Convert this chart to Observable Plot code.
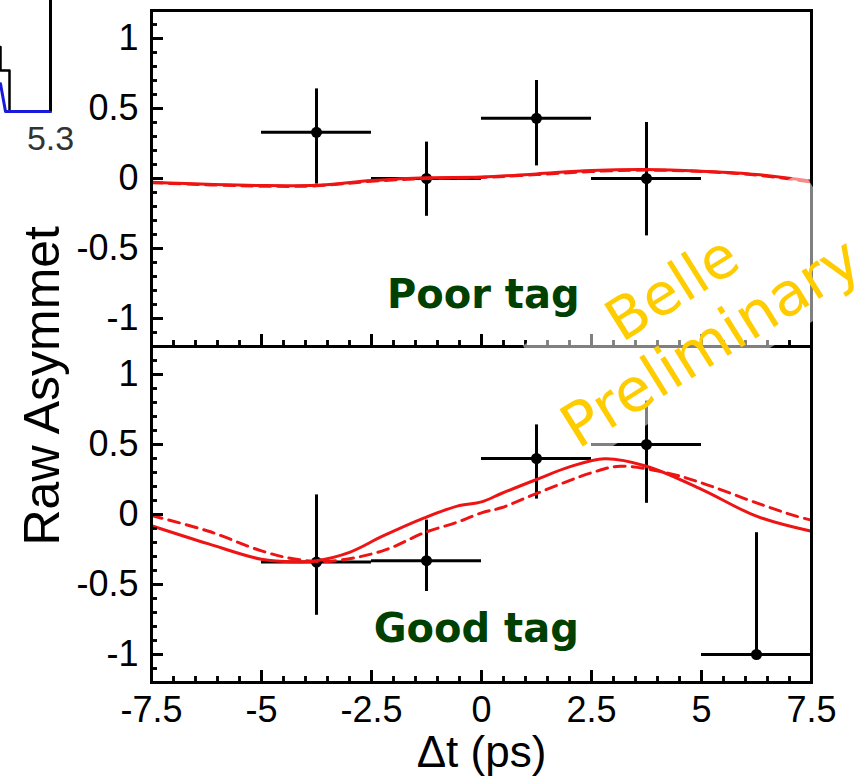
<!DOCTYPE html>
<html>
<head>
<meta charset="utf-8">
<script src="https://cdn.jsdelivr.net/npm/d3@7"></script>
<script src="https://cdn.jsdelivr.net/npm/@observablehq/plot@0.6"></script>
<style>
  html, body { margin: 0; padding: 0; background: #fff; }
  #chart { position: relative; width: 863px; height: 776px; overflow: hidden; }
  #chart svg { display: block; }
  #ticks, #inset { position: absolute; left: 0; top: 0; }
</style>
</head>
<body>
<div id="chart"></div>
<script>
// ---- Δt bins (ps) ----
const binCentre = [-3.75, -1.25, 1.25, 3.75, 6.25];
const binHalf = 1.25;

// ---- Poor-tag raw asymmetry with error bar ends ----
const poorA    = [0.33, 0.00, 0.43, 0.00];
const poorUp   = [0.64, 0.26, 0.70, 0.40];
const poorDown = [-0.04, -0.27, 0.09, -0.41];

// ---- Good-tag raw asymmetry with error bar ends ----
const goodA    = [-0.34, -0.33, 0.40, 0.50, -1.00];
const goodUp   = [0.14, -0.04, 0.64, 0.81, -0.13];
const goodDown = [-0.72, -0.55, 0.11, 0.08, -1.00];

// ---- fit curves (solid and dashed) ----
const poorSolidT = [-7.5, -5.0, -3.75, -2.5, -1.25, 0.0, 1.25, 2.5, 3.75, 5.0, 6.25, 7.5];
const poorSolidA = [-0.026, -0.05, -0.048, -0.015, 0.005, 0.01, 0.033, 0.057, 0.064, 0.052, 0.029, -0.02];
const poorDashT  = [-7.5, -5.0, -3.75, -2.5, -1.25, 0.0, 1.25, 2.5, 3.75, 5.0, 6.25, 7.5];
const poorDashA  = [-0.03, -0.055, -0.052, -0.02, 0.0, 0.007, 0.028, 0.05, 0.06, 0.05, 0.025, -0.025];

const goodSolidT = [-7.5, -6.2, -5.0, -4.25, -3.75, -3.0, -2.25, -1.3, -0.55, 0.0, 0.45, 1.25, 2.0, 2.8, 3.75, 5.0, 6.25, 7.5];
const goodSolidA = [-0.08, -0.21, -0.32, -0.338, -0.33, -0.27, -0.155, -0.024, 0.06, 0.09, 0.15, 0.25, 0.34, 0.398, 0.345, 0.18, -0.012, -0.12];
const goodDashT  = [-7.5, -6.2, -5.0, -4.25, -3.5, -2.25, -1.3, -0.55, 0.0, 0.45, 1.25, 2.5, 3.15, 4.2, 5.0, 6.25, 7.15, 7.5];
const goodDashA  = [-0.007, -0.12, -0.26, -0.318, -0.335, -0.26, -0.13, -0.055, 0.012, 0.048, 0.15, 0.298, 0.345, 0.298, 0.226, 0.083, -0.012, -0.04];

// ---- axis ticks and panel labels ----
const xDomain = [-7.5, 7.5];
const yDomain = [-1.2, 1.2];
const xMajor = [-7.5, -5, -2.5, 0, 2.5, 5, 7.5];
const yMajor = [-1, -0.5, 0, 0.5, 1];
const xMinor = d3.ticks(-7.5, 7.5, 30);   // every 0.5 ps
const yMinor = d3.ticks(-1.2, 1.2, 24);   // every 0.1
const panels = ["Poor tag", "Good tag"];
const panelLabelT = [0.04, -0.12];
const panelLabelA = [-0.83, -0.82];

// ---- neighbouring Mbc histogram edge ----
const histX = [5.19, 5.2, 5.218, 5.3];
const histY = [5.8, 3.7, 0, 0];
const fitX  = [5.2, 5.21, 5.3];
const fitY  = [2.5, 0, 0];

// build tidy tables
const points = [];
poorA.forEach((a, i) => points.push({tag: panels[0], t: binCentre[i], a, up: poorUp[i], down: poorDown[i]}));
goodA.forEach((a, i) => points.push({tag: panels[1], t: binCentre[i], a, up: goodUp[i], down: goodDown[i]}));

const toRows = (tag, ts, as) => ts.map((t, i) => ({tag, t, a: as[i]}));
const solid = [...toRows(panels[0], poorSolidT, poorSolidA), ...toRows(panels[1], goodSolidT, goodSolidA)];
const dashed = [...toRows(panels[0], poorDashT, poorDashA), ...toRows(panels[1], goodDashT, goodDashA)];
const labels = panels.map((tag, i) => ({tag, t: panelLabelT[i], a: panelLabelA[i]}));

const RED = "#ee1414";
const fmt = d => String(d);
const sans = "'Liberation Sans', Arial, Helvetica, sans-serif";

// layout
const W = 863, H = 776;
const mL = 151, mR = 52, mT = 10, mB = 94;
const frameW = W - mL - mR;
const panelH = (H - mT - mB) / panels.length;
const majorLen = 12, minorLen = 6;   // tick lengths in pixels
const tPerPx = (xDomain[1] - xDomain[0]) / frameW;
const aPerPx = (yDomain[1] - yDomain[0]) / panelH;

// inward tick tables, one set per panel
const yTicks = panels.flatMap(tag => [
  ...yMinor.map(v => ({tag, v, len: minorLen, w: 2.5})),
  ...yMajor.map(v => ({tag, v, len: majorLen, w: 3}))
]);
const xTicks = panels.flatMap(tag => [
  ...xMinor.map(v => ({tag, v, len: minorLen, w: 2.5})),
  ...xMajor.map(v => ({tag, v, len: majorLen, w: 3}))
]);

const shared = {
  width: W, height: H,
  marginLeft: mL, marginRight: mR, marginTop: mT, marginBottom: mB,
  fy: {domain: panels, padding: 0, axis: null}
};
const tickMarks = () => [
  Plot.ruleY(yTicks, {fy: "tag", y: "v", x1: xDomain[0], x2: d => xDomain[0] + d.len * tPerPx, stroke: "black", strokeWidth: "w"}),
  Plot.ruleX(xTicks, {fy: "tag", x: "v", y1: yDomain[0], y2: d => yDomain[0] + d.len * aPerPx, stroke: "black", strokeWidth: "w"}),
  Plot.frame({stroke: "black", strokeWidth: 3})
];

// data panels
const main = Plot.plot({
  ...shared,
  x: {domain: xDomain},
  y: {domain: yDomain},
  style: {fontFamily: sans, background: "white", color: "black"},
  marks: [
    ...tickMarks(),
    // error bars
    Plot.ruleY(points, {fy: "tag", y: "a", x1: d => d.t - binHalf, x2: d => d.t + binHalf, stroke: "black", strokeWidth: 3}),
    Plot.ruleX(points, {fy: "tag", x: "t", y1: "down", y2: "up", stroke: "black", strokeWidth: 3}),
    Plot.dot(points, {fy: "tag", x: "t", y: "a", r: 5.5, fill: "black"}),
    // fit curves
    Plot.line(dashed, {fy: "tag", x: "t", y: "a", stroke: RED, strokeWidth: 3, strokeDasharray: "11,7", curve: "catmull-rom"}),
    Plot.line(solid, {fy: "tag", x: "t", y: "a", stroke: RED, strokeWidth: 3, curve: "catmull-rom"}),
    // tick labels
    Plot.axisY({ticks: yMajor, tickSize: 0, tickPadding: 13, tickFormat: fmt, fontSize: 36, label: null}),
    Plot.axisX({ticks: xMajor, tickSize: 0, tickPadding: 14, tickFormat: fmt, fontSize: 36, label: null}),
    // panel labels
    Plot.text(labels, {fy: "tag", x: "t", y: "a", text: "tag", fill: "#004000", fontSize: 40, fontWeight: "bold", fontFamily: "'DejaVu Sans', sans-serif"}),
    // axis titles
    Plot.text(["Raw Asymmet"], {fy: () => panels[1], frameAnchor: "top-left", dx: -109, dy: 199, rotate: -90, textAnchor: "start", lineAnchor: "middle", fontSize: 50}),
    Plot.text(["Δt (ps)"], {fy: () => panels[1], frameAnchor: "bottom", dy: 70, lineAnchor: "middle", fontSize: 44})
  ]
});
document.getElementById("chart").append(main);

// frame and inward ticks layered above the data (no labels of its own)
const tickLayer = Plot.plot({
  ...shared,
  x: {domain: xDomain, axis: null},
  y: {domain: yDomain, axis: null},
  style: {background: "transparent"},
  marks: tickMarks()
});
tickLayer.id = "ticks";

// "Belle Preliminary" stamp with its translucent backing
const stamp = d3.select(tickLayer).append("g").attr("transform", "translate(698,314.5) rotate(-32)");
stamp.append("rect")
  .attr("x", -165).attr("y", -66.5).attr("width", 330).attr("height", 133)
  .attr("fill", "white").attr("fill-opacity", 0.5);
stamp.append("text").text("Belle")
  .attr("x", -8).attr("y", -36.6).attr("dy", "0.35em")
  .attr("text-anchor", "middle").attr("fill", "#ffcc00")
  .attr("font-family", "'DejaVu Sans', sans-serif").attr("font-size", 58);
stamp.append("text").text("Preliminary")
  .attr("x", -4).attr("y", 29.8).attr("dy", "0.35em")
  .attr("text-anchor", "middle").attr("fill", "#ffcc00")
  .attr("font-family", "'DejaVu Sans', sans-serif").attr("font-size", 60);
document.getElementById("chart").append(tickLayer);

// edge of the neighbouring Mbc panel
const inset = Plot.plot({
  width: 80,
  height: 218,
  marginLeft: 0,
  marginRight: 30,
  marginTop: 0,
  marginBottom: 107,
  style: {fontFamily: sans, background: "white"},
  x: {domain: [5.2, 5.3]},
  y: {domain: [0, 10], axis: null},
  marks: [
    Plot.line(histX.map((x, i) => ({x, y: histY[i]})), {x: "x", y: "y", curve: "step-after", stroke: "black", strokeWidth: 2.5}),
    Plot.line(fitX.map((x, i) => ({x, y: fitY[i]})), {x: "x", y: "y", stroke: "#1a1adb", strokeWidth: 3}),
    Plot.ruleX([5.3], {y1: 0, y2: 10, stroke: "black", strokeWidth: 3}),
    Plot.axisX({ticks: [5.3], tickSize: 0, tickPadding: 14, tickFormat: d => d.toFixed(1), fontSize: 34, fill: "#333", label: null})
  ]
});
inset.id = "inset";
document.getElementById("chart").append(inset);
</script>
</body>
</html>
